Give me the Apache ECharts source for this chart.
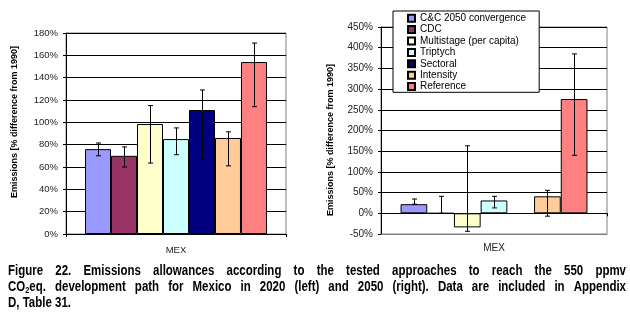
<!DOCTYPE html>
<html>
<head>
<meta charset="utf-8">
<script src="https://cdn.jsdelivr.net/npm/echarts@6/dist/echarts.min.js"></script>
<style>
  html, body { margin: 0; padding: 0; background: #fff; }
  #chart { width: 630px; height: 327px; }
</style>
</head>
<body>
<div id="chart"></div>
<script>
// Allocation approaches and their colours
const approaches = ['C&C 2050 convergence', 'CDC', 'Multistage (per capita)', 'Triptych', 'Sectoral', 'Intensity', 'Reference'];
const colors = ['#9999FF', '#993366', '#FFFFCC', '#CCFFFF', '#000080', '#FFCC99', '#FF8080'];
const categories = ['MEX'];

// 2020 allowances, % difference from 1990 (bar value, error range low/high)
const values2020 = [76, 70, 98.5, 85, 111, 86, 154];
const low2020 = [70, 60, 63.5, 71, 67, 61, 114];
const high2020 = [81.5, 78, 115, 95, 129, 91.5, 171];

// 2050 allowances (Sectoral has no result)
const values2050 = [22, 0, -34, 31, null, 41, 276];
const low2050 = [22, 0, -43.5, 13, null, -7, 140];
const high2050 = [34.5, 41, 163, 41, null, 55.5, 385];

// Value axis ranges
const axis2020 = [0, 180, 20];
const axis2050 = [-50, 450, 50];

const yTitle = 'Emissions [% difference from 1990]';
const captionLines = [
  'Figure 22. Emissions allowances according to the tested approaches to reach the 550 ppmv',
  'CO\u2082eq. development path for Mexico in 2020 (left) and 2050 (right). Data are included in Appendix',
  'D, Table 31.'
];

const GAP = 0.173;

function errorRender(params, api) {
  const k = api.value(3);
  const lo = api.value(1), hi = api.value(2);
  const band = api.size([1, 0])[0];
  const bw = band * (1 - GAP) / approaches.length;
  const cx = Math.round(api.coord([0, 0])[0] + (k - (approaches.length - 1) / 2) * bw) + 0.5;
  const yLo = api.coord([0, lo])[1];
  const yHi = api.coord([0, hi])[1];
  const s = { stroke: '#000', lineWidth: 1 };
  const cap = 2.5;
  return {
    type: 'group',
    children: [
      { type: 'line', shape: { x1: cx, y1: yLo, x2: cx, y2: yHi }, style: s },
      { type: 'line', shape: { x1: cx - cap, y1: yHi, x2: cx + cap, y2: yHi }, style: s },
      { type: 'line', shape: { x1: cx - cap, y1: yLo, x2: cx + cap, y2: yLo }, style: s }
    ]
  };
}

function errData(lows, highs) {
  const out = [];
  lows.forEach((lo, k) => {
    if (lo !== null && highs[k] !== null) out.push([0, lo, highs[k], k]);
  });
  return out;
}

const series = [];
approaches.forEach((name, k) => {
  const itemStyle = { color: colors[k], borderColor: '#000', borderWidth: 1 };
  series.push({
    name, type: 'bar', xAxisIndex: 0, yAxisIndex: 0,
    data: [values2020[k]], itemStyle, barGap: 0, barCategoryGap: (GAP * 100) + '%'
  });
  series.push({
    name, type: 'bar', xAxisIndex: 1, yAxisIndex: 1,
    data: [values2050[k] === null ? '-' : values2050[k]], itemStyle, barGap: 0, barCategoryGap: (GAP * 100) + '%'
  });
});
series.push({
  type: 'custom', xAxisIndex: 0, yAxisIndex: 0, z: 5,
  renderItem: errorRender, encode: { x: 0, y: [1, 2] }, data: errData(low2020, high2020)
});
series.push({
  type: 'custom', xAxisIndex: 1, yAxisIndex: 1, z: 5,
  renderItem: errorRender, encode: { x: 0, y: [1, 2] }, data: errData(low2050, high2050)
});

const labelFont = 'Liberation Sans, Arial, sans-serif';

function valueAxis(gridIndex, range, fontSize, showMin) {
  return {
    type: 'value', gridIndex, min: range[0], max: range[1], interval: range[2],
    axisLine: { show: true, lineStyle: { color: '#000', width: 1 } },
    axisTick: { show: true, length: 3, lineStyle: { color: '#000' } },
    axisLabel: { formatter: '{value}%', fontFamily: labelFont, fontSize, color: '#222', margin: 8 },
    splitLine: { show: true, showMinLine: showMin, lineStyle: { color: '#000', width: 1 } }
  };
}

// Caption: Arial-Narrow-like bold text, justified across the width
const capSize = 14, capScale = 0.82, capLeft = 8, capRight = 626;
const subSize = 9;
const mctx = document.createElement('canvas').getContext('2d');
function measure(t, size) {
  mctx.font = 'bold ' + size + 'px "Liberation Sans"';
  return mctx.measureText(t).width;
}
function wordParts(w) {
  // subscript digit handling for CO2
  const idx = w.indexOf('\u2082');
  if (idx < 0) return [{ t: w, size: capSize, dy: 0 }];
  return [
    { t: w.slice(0, idx), size: capSize, dy: 0 },
    { t: '2', size: subSize, dy: 1 },
    { t: w.slice(idx + 1), size: capSize, dy: 0 }
  ];
}
const captionGraphics = [];
const lineBottoms = [278.5, 294.5, 310.5];
captionLines.forEach((line, li) => {
  const words = line.split(' ');
  const parts = words.map(wordParts);
  const widths = parts.map(ps => ps.reduce((a, p) => a + measure(p.t, p.size), 0));
  const total = widths.reduce((a, b) => a + b, 0);
  const avail = (capRight - capLeft) / capScale;
  const justify = li < captionLines.length - 1;
  const spaceW = justify ? (avail - total) / (words.length - 1) : measure(' ', capSize);
  let x = 0;
  const children = [];
  parts.forEach((ps) => {
    ps.forEach(p => {
      children.push({
        type: 'text', x: x, y: p.dy,
        style: { text: p.t, font: 'bold ' + p.size + 'px "Liberation Sans"', fill: '#000', align: 'left', verticalAlign: 'bottom' }
      });
      x += measure(p.t, p.size);
    });
    x += spaceW;
  });
  captionGraphics.push({
    type: 'group', x: capLeft, y: lineBottoms[li], scaleX: capScale, children
  });
});

// Rotated y axis titles
function yTitleText(x, y) {
  return {
    type: 'text', x, y, rotation: Math.PI / 2,
    style: { text: yTitle, font: 'bold 9px "Liberation Sans"', fill: '#000', align: 'center', verticalAlign: 'middle' }
  };
}

const option = {
  animation: false,
  backgroundColor: '#fff',
  grid: [
    { left: 66, top: 33, width: 220, height: 201, show: true, borderColor: '#808080', borderWidth: 1, backgroundColor: '#fff' },
    { left: 381, top: 27, width: 226, height: 207, show: true, borderColor: '#808080', borderWidth: 1, backgroundColor: '#fff' }
  ],
  legend: {
    data: approaches,
    orient: 'vertical',
    left: 393, top: 11,
    padding: [1.5, 13, 0, 14],
    itemWidth: 7, itemHeight: 7, itemGap: 0,
    icon: 'rect',
    backgroundColor: '#fff',
    borderColor: '#000', borderWidth: 1,
    textStyle: { fontFamily: labelFont, fontSize: 10, color: '#000', lineHeight: 11.4 }
  },
  xAxis: [
    {
      type: 'category', gridIndex: 0, data: categories,
      axisLine: { lineStyle: { color: '#000' } },
      axisTick: { show: true, length: 3, lineStyle: { color: '#000' } },
      axisLabel: { fontFamily: labelFont, fontSize: 9.5, color: '#222', margin: 11 }
    },
    {
      type: 'category', gridIndex: 1, data: categories, position: 'bottom',
      axisLine: { onZero: false, lineStyle: { color: '#808080' } },
      axisTick: { show: false },
      axisLabel: { fontFamily: labelFont, fontSize: 10, color: '#222', margin: 9 }
    },
    {
      type: 'category', gridIndex: 1, data: categories,
      axisLine: { onZero: true, lineStyle: { color: '#000' } },
      axisTick: { show: true, inside: true, length: 3, lineStyle: { color: '#000' } },
      axisLabel: { show: false }
    }
  ],
  yAxis: [
    valueAxis(0, axis2020, 9.5, true),
    valueAxis(1, axis2050, 10, false)
  ],
  series,
  graphic: [yTitleText(15, 122), yTitleText(331, 140)].concat(captionGraphics)
};

const chart = echarts.init(document.getElementById('chart'), null, { renderer: 'canvas' });
chart.setOption(option);
</script>
</body>
</html>
